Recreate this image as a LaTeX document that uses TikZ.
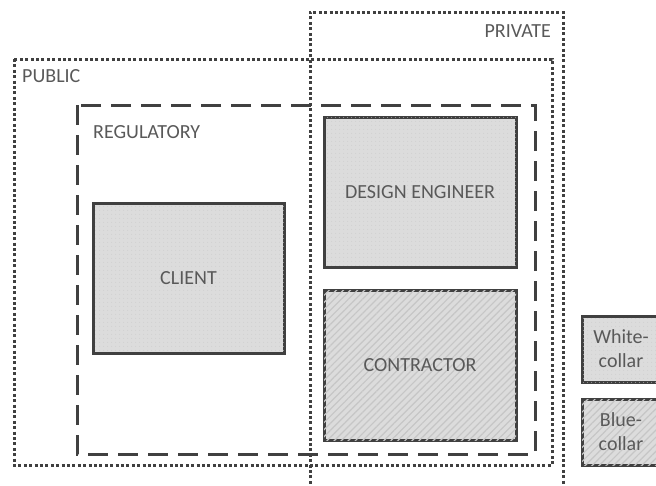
\documentclass[tikz,border=0pt]{standalone}
\usepackage{fontspec}
\setmainfont{Carlito}
\usetikzlibrary{patterns.meta}
\definecolor{txt}{HTML}{595959}
\definecolor{edge}{HTML}{404040}
\definecolor{boxfill}{HTML}{DCDCDC}
\tikzset{
  dotbox/.style={draw=edge, line width=3pt, dash pattern=on 3pt off 2.4pt},
  dashbox/.style={draw=edge, line width=3pt, dash pattern=on 20pt off 10pt},
  actor/.style={draw=edge, line width=3pt, fill=boxfill, postaction={pattern={Dots[distance=4pt, radius=0.5pt]}, pattern color=gray!40}},
  hatchactor/.style={draw=edge, line width=3pt, fill=boxfill, postaction={pattern={Lines[angle=45, distance=5pt, line width=1.2pt]}, pattern color=gray!45}},
  lbl/.style={text=txt, font=\fontsize{20}{22}\selectfont, inner sep=0pt}
}
\begin{document}
\begin{tikzpicture}[x=1pt,y=-1pt]
\useasboundingbox (0,0) rectangle (656,485);
\clip (0,0) rectangle (656,485);
% PRIVATE
\draw[dotbox] (310,500) -- (310,12) -- (563,12) -- (563,500);
\node[lbl, anchor=east] (private) at (551,31) {PRIVATE};
% PUBLIC
\draw[dotbox] (14,59) rectangle (552,465);
\node[lbl, anchor=west] (public) at (22,76) {PUBLIC};
% REGULATORY
\draw[dashbox] (77,105) rectangle (535,454);
\node[lbl, anchor=west] (regulatory) at (93,132) {REGULATORY};
% actors
\path[actor] (93,203) rectangle (284,353);
\node[lbl] (client) at (188.5,278) {CLIENT};
\path[actor] (324,117) rectangle (516,267);
\node[lbl] (design) at (420,192) {DESIGN ENGINEER};
\path[hatchactor] (324,290) rectangle (516,440);
\node[lbl] (contractor) at (420,365) {CONTRACTOR};
% legend
\path[actor] (582,316) rectangle (670,382);
\node[lbl, align=center, font=\fontsize{20}{24}\selectfont] (white) at (621,349) {White-\\collar};
\path[hatchactor] (582,399) rectangle (670,465);
\node[lbl, align=center, font=\fontsize{20}{24}\selectfont] (blue) at (621,432) {Blue-\\collar};
\end{tikzpicture}
\end{document}
